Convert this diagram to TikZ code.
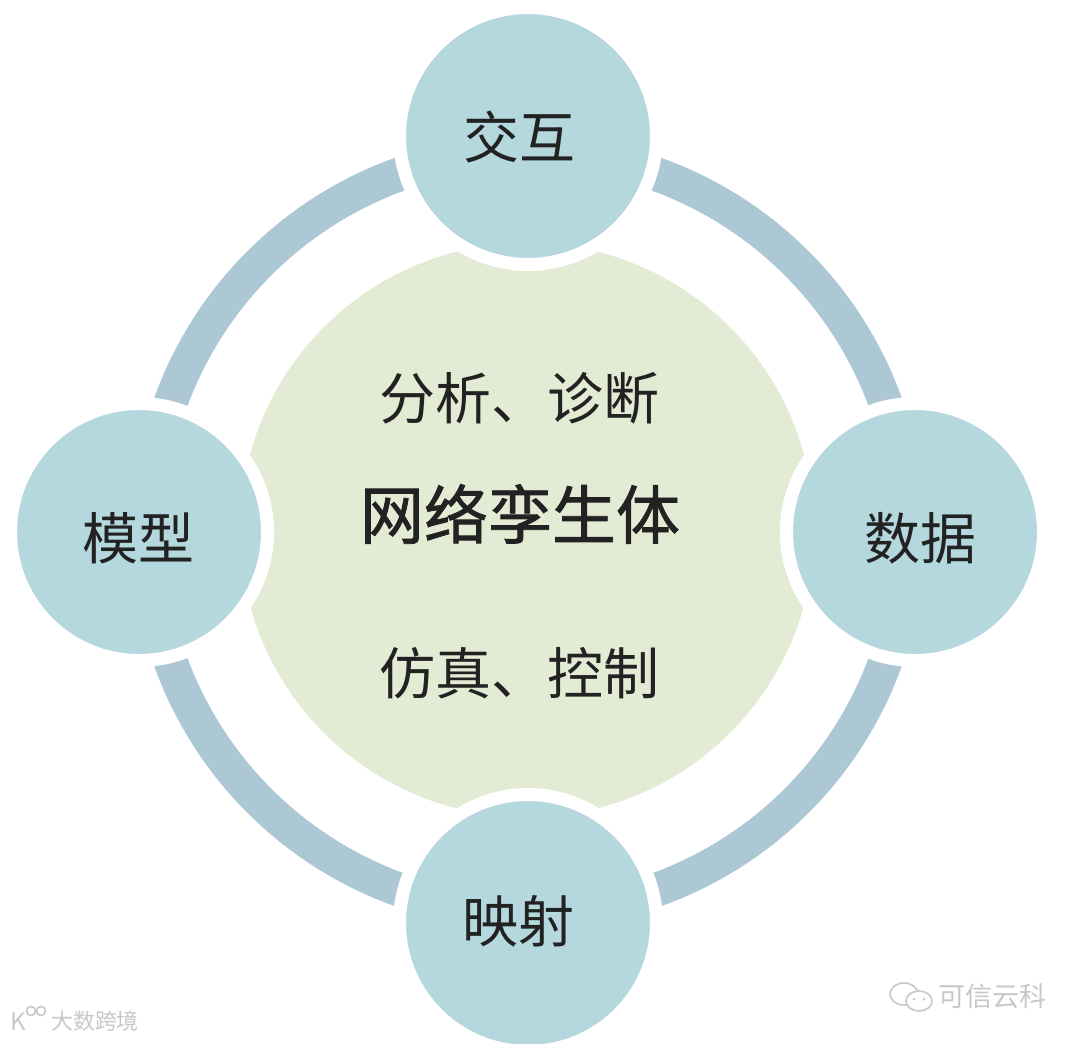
\documentclass[tikz,border=0pt]{standalone}
\usepackage{fontspec}
\newfontfamily\cjk{Noto Sans CJK SC}
\newfontfamily\cjkm[FakeBold=1.2]{Noto Sans CJK SC}
\definecolor{bub}{HTML}{B5D8DE}
\definecolor{ringc}{HTML}{ACC8D4}
\definecolor{corec}{HTML}{E4EBD5}
\definecolor{ink}{HTML}{222222}
\definecolor{wmc}{HTML}{C8C8C8}
\begin{document}
\begin{tikzpicture}[x=1pt,y=-1pt,
  bubble/.style={circle, minimum size=257pt, inner sep=0pt, fill=bub, draw=white, line width=13pt},
  corenode/.style={circle, minimum size=574pt, inner sep=0pt, fill=corec},
  lbl/.style={font=\cjk\fontsize{56}{60}\selectfont, text=ink, inner sep=0pt},
  midlbl/.style={font=\cjk\fontsize{56}{60}\selectfont, text=ink, inner sep=0pt},
  biglbl/.style={font=\cjkm\fontsize{64}{70}\selectfont, text=ink, inner sep=0pt},
  wm/.style={font=\cjk\fontsize{#1}{#1}\selectfont, text=wmc, inner sep=0pt},
  wmline/.style={draw=wmc, line width=1.6pt, fill=white}
]
\useasboundingbox (0,0) rectangle (1080,1044);
\fill[white] (0,0) rectangle (1080,1044);
\coordinate (O) at (528,532);
\draw[ringc, line width=34pt] (O) circle[radius=380pt];
\node[corenode] (core) at (527,530) {};
\node[bubble] (top) at (528,136) {};
\node[bubble] (right) at (915,532) {};
\node[bubble] (bottom) at (528,923) {};
\node[bubble] (left) at (139,532) {};
\node[lbl] (tj) at (519,137) {交互};
\node[lbl] (ts) at (920,538) {数据};
\node[lbl] (tm) at (138,538) {模型};
\node[lbl] (ty) at (518,921) {映射};
\node[midlbl] (t1) at (519,398) {分析、诊断};
\node[biglbl] (t2) at (520,514) {网络孪生体};
\node[midlbl] (t3) at (519,673) {仿真、控制};
% watermarks
\node[wm=22] (w1) at (95,1021) {大数跨境};
\node[wm=24] (w0) at (18,1022) {K};
\draw[wmline] (31,1011) circle[radius=4.5pt];
\draw[wmline] (41,1011) circle[radius=4.5pt];
\node[wm=27] (w2) at (992,996) {可信云科};
\draw[wmline] (904,994) ellipse[x radius=14pt, y radius=11pt];
\draw[wmline] (919,1001) ellipse[x radius=13pt, y radius=10pt];
\fill[wmc] (914,999) circle[radius=1.5pt] (924,999) circle[radius=1.5pt];
\end{tikzpicture}
\end{document}
